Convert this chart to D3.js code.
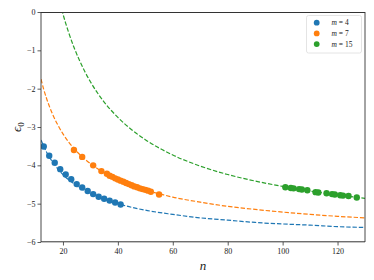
<!DOCTYPE html>
<html>
<head>
<meta charset="utf-8">
<script src="https://cdn.jsdelivr.net/npm/d3@7"></script>
<style>
  html, body { margin: 0; padding: 0; background: #fff; }
  svg { display: block; }
  text { font-family: "Liberation Serif", "DejaVu Serif", serif; fill: #222; }
</style>
</head>
<body>
<svg id="chart" width="374" height="280"></svg>
<script>
// ---------- data ----------
const xTicks = [20, 40, 60, 80, 100, 120];
const yTicks = [0, -1, -2, -3, -4, -5, -6];
const seriesNames = ["m = 4", "m = 7", "m = 15"];
const seriesColors = ["#1f77b4", "#ff7f0e", "#2ca02c"];

// observed points
const pointsN4   = [13, 15, 17, 19, 21, 23, 25, 27, 29, 31, 33, 35, 37, 39, 41];
const pointsEps4 = [-3.51, -3.75, -3.93, -4.10, -4.24, -4.36, -4.49, -4.58, -4.67, -4.75, -4.82, -4.87, -4.92, -4.97, -5.02];

const pointsN7   = [24, 27, 31, 34, 36, 37, 38, 39, 40, 41, 42, 43, 44, 45, 46, 47, 48, 49, 50, 51, 52, 55];
const pointsEps7 = [-3.60, -3.78, -4.00, -4.15, -4.22, -4.27, -4.30, -4.34, -4.37, -4.40, -4.43, -4.46, -4.49, -4.52, -4.55, -4.57, -4.60, -4.62, -4.64, -4.66, -4.69, -4.76];

const pointsN15   = [101, 103, 104, 106, 107, 109, 112, 113, 116, 118, 119, 121, 122, 124, 127];
const pointsEps15 = [-4.57, -4.59, -4.60, -4.62, -4.63, -4.65, -4.70, -4.71, -4.73, -4.75, -4.76, -4.78, -4.79, -4.80, -4.84];

// fitted (dashed) curves
const curveN4   = [12, 14, 16, 20, 25, 30, 40, 50, 60, 70, 80, 90, 100, 110, 120, 130];
const curveEps4 = [-3.34, -3.65, -3.89, -4.24, -4.53, -4.73, -5.00, -5.17, -5.28, -5.37, -5.43, -5.49, -5.53, -5.56, -5.60, -5.62];

const curveN7   = [12, 13, 14, 16, 18, 20, 24, 28, 32, 36, 40, 45, 50, 55, 60, 70, 80, 90, 100, 110, 120, 130];
const curveEps7 = [-1.75, -2.02, -2.25, -2.63, -2.93, -3.18, -3.56, -3.84, -4.06, -4.24, -4.38, -4.52, -4.65, -4.74, -4.83, -4.96, -5.07, -5.15, -5.22, -5.28, -5.33, -5.37];

const curveN15   = [19, 20, 22, 24, 26, 28, 30, 35, 40, 45, 50, 60, 70, 80, 90, 100, 110, 120, 130];
const curveEps15 = [0.23, -0.05, -0.52, -0.92, -1.26, -1.56, -1.82, -2.35, -2.75, -3.07, -3.33, -3.73, -4.02, -4.24, -4.41, -4.55, -4.67, -4.77, -4.86];

// ---------- layout ----------
const svg = d3.select("#chart");
const L = 41, R = 365, T = 12, B = 242;
const x = d3.scaleLinear().domain([12, 130]).range([L, R]);
const y = d3.scaleLinear().domain([-6, 0]).range([B, T]);

svg.append("defs").append("clipPath").attr("id", "clip")
  .append("rect").attr("x", L).attr("y", T).attr("width", R - L).attr("height", B - T);

const plot = svg.append("g").attr("clip-path", "url(#clip)");

const curves = [
  [curveN4, curveEps4],
  [curveN7, curveEps7],
  [curveN15, curveEps15]
];
const points = [
  [pointsN4, pointsEps4],
  [pointsN7, pointsEps7],
  [pointsN15, pointsEps15]
];

const line = d3.line().x(d => x(d[0])).y(d => y(d[1])).curve(d3.curveMonotoneX);

curves.forEach((c, i) => {
  const data = c[0].map((n, j) => [n, c[1][j]]);
  plot.append("path")
    .datum(data)
    .attr("d", line)
    .attr("fill", "none")
    .attr("stroke", seriesColors[i])
    .attr("stroke-width", 1.2)
    .attr("stroke-dasharray", "4.4,1.9");
});

points.forEach((p, i) => {
  const data = p[0].map((n, j) => [n, p[1][j]]);
  plot.selectAll(null).data(data).enter().append("circle")
    .attr("cx", d => x(d[0]))
    .attr("cy", d => y(d[1]))
    .attr("r", 3.2)
    .attr("fill", seriesColors[i]);
});

// ---------- axes ----------
const fmt = d => (d < 0 ? "\u2212" + Math.abs(d) : String(d));

const xAxis = d3.axisBottom(x).tickValues(xTicks).tickSize(3.5).tickPadding(2.5).tickFormat(fmt);
const gx = svg.append("g").attr("transform", `translate(0,${B})`).call(xAxis);
gx.select(".domain").remove();
gx.selectAll(".tick line").attr("stroke", "#333").attr("stroke-width", 0.8);
gx.selectAll(".tick text").attr("font-size", 8).attr("font-family", "Liberation Serif, serif").attr("fill", "#333");

const yAxis = d3.axisLeft(y).tickValues(yTicks).tickSize(3.5).tickPadding(2).tickFormat(fmt);
const gy = svg.append("g").attr("transform", `translate(${L},0)`).call(yAxis);
gy.select(".domain").remove();
gy.selectAll(".tick line").attr("stroke", "#333").attr("stroke-width", 0.8);
gy.selectAll(".tick text").attr("font-size", 8).attr("font-family", "Liberation Serif, serif").attr("fill", "#333");

// frame (spines)
svg.append("line").attr("x1", L).attr("x2", R).attr("y1", T + 0.5).attr("y2", T + 0.5)
  .attr("stroke", "#333").attr("stroke-width", 1);
svg.append("line").attr("x1", L).attr("x2", R).attr("y1", B - 0.5 + 0.3).attr("y2", B - 0.5 + 0.3)
  .attr("stroke", "#333").attr("stroke-width", 1);
svg.append("line").attr("x1", L).attr("x2", L).attr("y1", T).attr("y2", B)
  .attr("stroke", "#333").attr("stroke-width", 0.9);
svg.append("line").attr("x1", R).attr("x2", R).attr("y1", T).attr("y2", B)
  .attr("stroke", "#333").attr("stroke-width", 0.9);

// axis labels
svg.append("text")
  .attr("x", (L + R) / 2).attr("y", 270)
  .attr("text-anchor", "middle")
  .attr("font-size", 13).attr("font-style", "italic")
  .text("n");

const yl = svg.append("text")
  .attr("transform", `translate(21,${(T + B) / 2}) rotate(-90)`)
  .attr("text-anchor", "middle")
  .attr("font-size", 13);
yl.append("tspan").attr("font-style", "italic").text("\u03f5");
yl.append("tspan").attr("font-size", 9).attr("dy", 2.5).text("0");

// ---------- legend ----------
const lg = svg.append("g");
lg.append("rect")
  .attr("x", 306.5).attr("y", 15.5).attr("width", 55).attr("height", 37.5)
  .attr("rx", 2).attr("fill", "#fff").attr("stroke", "#ddd").attr("stroke-width", 0.8);
seriesNames.forEach((name, i) => {
  const cy = 22.7 + i * 10.7;
  lg.append("circle").attr("cx", 316.7).attr("cy", cy).attr("r", 2.9).attr("fill", seriesColors[i]);
  const parts = name.split(" = ");
  const t = lg.append("text").attr("x", 331.5).attr("y", cy + 2.6).attr("font-size", 7.5).attr("fill", "#333");
  t.append("tspan").attr("font-style", "italic").text(parts[0]);
  t.append("tspan").text(" = " + parts[1]);
});
</script>
</body>
</html>
